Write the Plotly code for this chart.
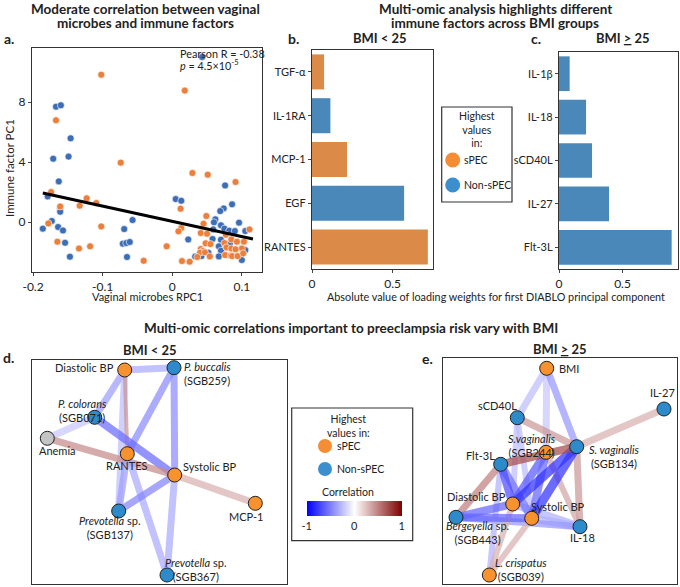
import plotly.graph_objects as go
from plotly.colors import sample_colorscale

W, H = 680, 587
def fx(x): return x / W
def fy(y): return 1 - y / H

FONT = "Lato"
TXT = "#222222"

# ---------------- panel a data ----------------
blue_x = [0.043, -0.167, -0.160, -0.146, -0.171, -0.149, -0.163, -0.179, -0.161, -0.161,
          -0.173, -0.186, -0.164, -0.157, -0.069, -0.154, -0.071, -0.066, -0.061, -0.065,
          -0.147, -0.057, 0.076, 0.005, 0.013, 0.023, 0.086, 0.074, 0.069, 0.062,
          0.060, 0.070, 0.059, 0.075, 0.082, 0.058, 0.070, 0.083, 0.067, 0.070,
          0.042, 0.067, 0.096, 0.090, 0.105, 0.105, 0.100, 0.033, 0.052]
blue_y = [11.0, 7.69, 7.78, 5.58, 4.22, 4.36, 2.71, 1.71, 0.87, 0.69,
          0.07, -0.44, -0.33, -0.56, -0.47, -1.38, -1.44, -1.40, -1.33, -2.33,
          -2.31, 0.13, 2.44, 1.53, 1.42, -1.16, 1.18, 0.91, 0.73, 0.18,
          -0.02, -0.22, -0.49, -0.44, -0.58, -1.13, -1.18, -1.40, -1.62, -1.91,
          -2.27, -2.29, -0.04, -0.60, -0.60, -1.87, -2.53, -2.30, -2.05]
orange_x = [-0.102, -0.167, -0.074, -0.174, -0.123, -0.133, -0.109, -0.161, -0.178, -0.102,
            -0.165, -0.134, -0.118, -0.041, -0.008, 0.018, 0.029, 0.051, 0.012, 0.013,
            0.009, 0.014, 0.025, 0.049, 0.045, 0.041, 0.050, 0.077, 0.085, 0.048,
            0.055, 0.075, 0.041, 0.044, 0.078, 0.085, 0.040, 0.047, 0.036, 0.054,
            0.076, 0.084, 0.091, 0.111, 0.093, 0.100, 0.091, 0.086, 0.094, 0.102, 0.103]
orange_y = [9.82, 6.78, 3.96, 2.00, 1.58, 1.09, 1.27, 1.04, -0.09, -0.29,
            -1.31, -1.76, -1.62, -2.58, -1.62, 8.76, 3.27, 3.16, 0.89, -0.40,
            -0.62, -2.60, -2.64, 0.40, -0.11, -0.73, -0.78, -0.84, -1.16, -1.42,
            -1.47, -1.40, -1.80, -1.93, -1.69, -1.76, -2.04, -2.02, -2.33, -2.29,
            -2.20, -2.24, 2.67, -0.49, -1.31, -1.76, -1.82, -2.27, -2.27, -2.09, -1.31]
fit_x = [-0.186, 0.116]
fit_y = [1.93, -1.13]
a_xticks = [-0.2, -0.1, 0, 0.1]
a_xticktext = ["-0.2", "-0.1", "0", "0.1"]
a_yticks = [0, 4, 8]

# ---------------- panels b, c data ----------------
b_cats = ["TGF-α", "IL-1RA", "MCP-1", "EGF", "RANTES"]
b_vals = [0.075, 0.114, 0.217, 0.571, 0.718]
b_group = ["sPEC", "Non-sPEC", "sPEC", "Non-sPEC", "sPEC"]
c_cats = ["IL-1β", "IL-18", "sCD40L", "IL-27", "Flt-3L"]
c_vals = [0.084, 0.213, 0.26, 0.394, 0.887]
c_group = ["Non-sPEC"] * 5
bar_ticks = [0, 0.5]

# ---------------- networks ----------------
d_nodes = ["Diastolic BP", "P. buccalis", "P. colorans", "Anemia", "RANTES",
           "Systolic BP", "MCP-1", "SGB137", "SGB367"]
d_node_x = [124.7, 174.0, 94.7, 47.3, 127.3, 174.7, 255.3, 118.7, 167.0]
d_node_y = [370.0, 367.7, 417.3, 438.3, 453.7, 475.0, 503.3, 511.0, 575.0]
d_group = ["sPEC", "Non-sPEC", "Non-sPEC", "None", "sPEC", "sPEC", "sPEC", "Non-sPEC", "Non-sPEC"]
d_labels = ["Diastolic BP", "<i>P. buccalis</i><br>(SGB259)", "<i>P. colorans</i><br>(SGB071)",
            "Anemia", "RANTES", "Systolic BP", "MCP-1",
            "<i>Prevotella</i> sp.<br>(SGB137)", "<i>Prevotella</i> sp.<br>(SGB367)"]
d_label_x = [116, 182, 82, 57.3, 127.3, 209.7, 246.3, 110, 196]
d_label_y = [367, 373, 410, 450.7, 465.7, 466, 516.7, 527, 569]
d_label_anchor = ["right", "left", "center", "center", "center", "center", "center", "center", "center"]
d_edges = [("Diastolic BP", "P. buccalis", -0.33), ("Diastolic BP", "P. colorans", -0.38),
           ("Diastolic BP", "SGB137", -0.25), ("Diastolic BP", "RANTES", 0.42),
           ("P. buccalis", "RANTES", -0.45), ("P. buccalis", "Systolic BP", -0.45),
           ("P. colorans", "Anemia", -0.22), ("P. colorans", "Systolic BP", -0.58),
           ("Anemia", "Systolic BP", 0.45), ("RANTES", "SGB137", -0.38),
           ("RANTES", "SGB367", -0.33), ("Systolic BP", "SGB137", -0.48),
           ("Systolic BP", "SGB367", -0.33), ("Systolic BP", "MCP-1", 0.3)]
d_edge_w = [7, 7, 7, 4, 7, 7, 7, 8, 7, 7, 7, 7, 7, 7]

e_nodes = ["BMI", "IL-27", "sCD40L", "SGB244", "SGB134", "Flt-3L", "Diastolic BP",
           "Systolic BP", "Bergeyella", "IL-18", "L. crispatus"]
e_node_x = [546.7, 664.0, 517.3, 546.0, 576.7, 500.7, 512.7, 531.7, 456.0, 580.0, 489.3]
e_node_y = [368.3, 409.0, 417.7, 452.3, 446.7, 464.3, 504.0, 518.3, 517.3, 526.7, 575.0]
e_group = ["sPEC", "Non-sPEC", "Non-sPEC", "sPEC", "Non-sPEC", "Non-sPEC", "sPEC",
           "sPEC", "Non-sPEC", "Non-sPEC", "sPEC"]
e_labels = ["BMI", "IL-27", "sCD40L", "<i>S.vaginalis</i><br>(SGB244)",
            "<i>S. vaginalis</i><br>(SGB134)", "Flt-3L", "Diastolic BP", "Systolic BP",
            "<i>Bergeyella</i> sp.<br>(SGB443)", "IL-18", "<i>L. crispatus</i><br>(SGB039)"]
e_label_x = [557.3, 662.7, 497.3, 532, 614, 480.7, 476, 558.3, 477, 582.7, 521]
e_label_y = [368.3, 392.3, 405.7, 445.5, 456.7, 455, 496.7, 506.7, 532.3, 537.7, 569]
e_label_anchor = ["left"] + ["center"] * 10
e_edges = [("BMI", "sCD40L", -0.25), ("BMI", "SGB244", -0.22), ("BMI", "SGB134", -0.4),
           ("sCD40L", "Diastolic BP", -0.25), ("sCD40L", "Systolic BP", -0.25),
           ("sCD40L", "SGB134", 0.4), ("IL-27", "SGB134", 0.3),
           ("Diastolic BP", "IL-18", -0.3), ("Systolic BP", "IL-18", -0.3),
           ("Bergeyella", "IL-18", -0.4), ("L. crispatus", "Flt-3L", -0.3),
           ("L. crispatus", "Diastolic BP", 0.3), ("L. crispatus", "Systolic BP", 0.3),
           ("SGB134", "IL-18", 0.4), ("SGB244", "IL-18", 0.35),
           ("Flt-3L", "Bergeyella", 0.5), ("Bergeyella", "Diastolic BP", -0.6),
           ("Bergeyella", "Systolic BP", -0.6), ("Flt-3L", "Systolic BP", -0.55),
           ("Flt-3L", "Diastolic BP", -0.7), ("SGB244", "Diastolic BP", -0.65),
           ("SGB244", "Systolic BP", -0.6), ("SGB134", "Diastolic BP", -0.8),
           ("SGB134", "Systolic BP", -0.8), ("SGB134", "Flt-3L", 0.7)]
e_edge_w = [7, 7, 7, 6, 6, 7, 7, 8, 8, 7, 6, 6, 6, 7, 6, 7, 8, 8, 8, 8, 8, 8, 9, 9, 8]

# ---------------- styles ----------------
PT_COL = {"sPEC": "#EB7F3C", "Non-sPEC": "#3D6DB5"}
BAR_COL = {"sPEC": "#DB8A47", "Non-sPEC": "#4A88BA"}
NODE_COL = {"sPEC": "#F7922F", "Non-sPEC": "#2E8BCB", "None": "#C4C4C4"}
CS = [[0, "rgb(0,0,255)"], [0.5, "rgb(255,255,255)"], [1, "rgb(128,0,0)"]]

fig = go.Figure()

# panel a
fig.add_trace(go.Scatter(x=blue_x, y=blue_y, mode="markers", xaxis="x", yaxis="y",
                         marker=dict(color=PT_COL["Non-sPEC"], size=7, line=dict(color="white", width=0.6)),
                         showlegend=False, hoverinfo="skip"))
fig.add_trace(go.Scatter(x=orange_x, y=orange_y, mode="markers", xaxis="x", yaxis="y",
                         marker=dict(color=PT_COL["sPEC"], size=7, line=dict(color="white", width=0.6)),
                         showlegend=False, hoverinfo="skip"))
fig.add_trace(go.Scatter(x=fit_x, y=fit_y, mode="lines", xaxis="x", yaxis="y",
                         line=dict(color="black", width=3), showlegend=False, hoverinfo="skip"))

# panels b, c
fig.add_trace(go.Bar(x=b_vals, y=b_cats, orientation="h", xaxis="x2", yaxis="y2",
                     marker=dict(color=[BAR_COL[g] for g in b_group], line=dict(width=0)),
                     showlegend=False, hoverinfo="skip"))
fig.add_trace(go.Bar(x=c_vals, y=c_cats, orientation="h", xaxis="x3", yaxis="y3",
                     marker=dict(color=[BAR_COL[g] for g in c_group], line=dict(width=0)),
                     showlegend=False, hoverinfo="skip"))

# networks
def add_network(nodes, nx, ny, groups, edges, widths, xa, ya):
    idx = {n: i for i, n in enumerate(nodes)}
    for (a, b, r), w in zip(edges, widths):
        col = sample_colorscale(CS, [(r + 1) / 2])[0]
        fig.add_trace(go.Scatter(x=[nx[idx[a]], nx[idx[b]]], y=[ny[idx[a]], ny[idx[b]]],
                                 mode="lines", xaxis=xa, yaxis=ya, opacity=0.72,
                                 line=dict(color=col, width=w),
                                 showlegend=False, hoverinfo="skip"))
    fig.add_trace(go.Scatter(x=nx, y=ny, mode="markers", xaxis=xa, yaxis=ya,
                             marker=dict(size=14, color=[NODE_COL[g] for g in groups],
                                         line=dict(color="#222", width=1)),
                             showlegend=False, hoverinfo="skip"))

add_network(d_nodes, d_node_x, d_node_y, d_group, d_edges, d_edge_w, "x4", "y4")
add_network(e_nodes, e_node_x, e_node_y, e_group, e_edges, e_edge_w, "x5", "y5")

# colorbar
fig.add_trace(go.Scatter(x=[None], y=[None], mode="markers", xaxis="x4", yaxis="y4",
                         marker=dict(color=[0], colorscale=CS, cmin=-1, cmax=1, showscale=True,
                                     colorbar=dict(orientation="h", x=fx(354.2), xanchor="center",
                                                   y=fy(500.7), yanchor="top", len=95 / W,
                                                   lenmode="fraction", thickness=14.5,
                                                   tickvals=[-1, 0, 1], ticktext=["-1", "0", "1"],
                                                   ticks="", outlinewidth=0, xpad=0, ypad=0,
                                                   tickfont=dict(size=11, color=TXT, family=FONT))),
                         showlegend=False, hoverinfo="skip"))

frame = dict(showline=True, mirror=True, linecolor="#333", linewidth=1.3,
             showgrid=False, zeroline=False)
tickf = dict(size=12, color=TXT, family=FONT)

annotations = []
def ann(x, y, text, size=11, bold=False, xanchor="center", yanchor="middle", align="center", xref="paper", yref="paper", **kw):
    if bold:
        text = "<b>" + text.replace("<br>", "</b><br><b>") + "</b>"
    annotations.append(dict(x=x if xref != "paper" else fx(x), y=y if yref != "paper" else fy(y),
                            xref=xref, yref=yref, text=text, showarrow=False,
                            xanchor=xanchor, yanchor=yanchor, align=align,
                            font=dict(size=size, color=TXT, family=FONT), **kw))

# titles
ann(145, 9, "Moderate correlation between vaginal", size=13.5, bold=True)
ann(145, 23, "microbes and immune factors", size=13.5, bold=True)
ann(495, 9, "Multi-omic analysis highlights different", size=13.5, bold=True)
ann(495, 23, "immune factors across BMI groups", size=13.5, bold=True)
ann(351, 328, "Multi-omic correlations important to preeclampsia risk vary with BMI", size=13.5, bold=True)
ann(9, 38, "a.", size=14, bold=True)
ann(293, 38, "b.", size=14, bold=True)
ann(536, 38, "c.", size=14, bold=True)
ann(8, 357, "d.", size=14, bold=True)
ann(427, 358, "e.", size=14, bold=True)
ann(380, 38, "BMI &lt; 25", size=13, bold=True)
ann(623, 38, "BMI <u>&gt;</u> 25", size=13, bold=True)
ann(150, 350, "BMI &lt; 25", size=13, bold=True)
ann(560, 349, "BMI <u>&gt;</u> 25", size=13, bold=True)
# axis titles
ann(147, 297, "Vaginal microbes RPC1", size=11)
ann(496, 297, "Absolute value of loading weights for first DIABLO principal component", size=10.8)
ann(9, 168, "Immune factor PC1", size=11.5, textangle=-90)
ann(178, 54, "Pearson R = -0.38", size=10.8, xanchor="left")
ann(178, 65, "<i>p</i> = 4.5×10<sup>-5</sup>", size=10.8, xanchor="left")

# network labels
for t, x, y, a in zip(d_labels, d_label_x, d_label_y, d_label_anchor):
    ann(x, y, t, size=11, xanchor=a, align=a if a != "center" else "center", xref="x4", yref="y4")
for t, x, y, a in zip(e_labels, e_label_x, e_label_y, e_label_anchor):
    ann(x, y, t, size=11, xanchor=a, align=a if a != "center" else "center", xref="x5", yref="y5")

# legends
shapes = []
def rect(x0, y0, x1, y1):
    shapes.append(dict(type="rect", xref="paper", yref="paper", x0=fx(x0), x1=fx(x1),
                       y0=fy(y1), y1=fy(y0), line=dict(color="#333", width=1.2), fillcolor="white", layer="below"))
def circ(cx, cy, d, col):
    shapes.append(dict(type="circle", xref="paper", yref="paper", x0=fx(cx - d / 2), x1=fx(cx + d / 2),
                       y0=fy(cy + d / 2), y1=fy(cy - d / 2), line=dict(width=0), fillcolor=col))

LEG_COL = {"sPEC": "#F58D35", "Non-sPEC": "#3B8FCF"}
rect(441.7, 107, 512, 202)
ann(477, 130, "Highest<br>values<br>in:", size=10.5)
circ(452.7, 160, 15, LEG_COL["sPEC"])
circ(452.7, 185, 15, LEG_COL["Non-sPEC"])
ann(462, 160, "sPEC", size=10.5, xanchor="left")
ann(462, 185, "Non-sPEC", size=10.5, xanchor="left")

rect(291.7, 408, 412.7, 540.7)
ann(348, 425.7, "Highest<br>values in:", size=10.5)
circ(325, 446, 14, LEG_COL["sPEC"])
circ(325, 469, 14, LEG_COL["Non-sPEC"])
ann(335, 446, "sPEC", size=10.5, xanchor="left")
ann(335, 469, "Non-sPEC", size=10.5, xanchor="left")
ann(348, 491.7, "Correlation", size=10.5)

fig.update_layout(
    width=W, height=H, margin=dict(l=0, r=0, t=0, b=0, autoexpand=False),
    paper_bgcolor="white", plot_bgcolor="white", showlegend=False,
    font=dict(family=FONT, color=TXT), bargap=0.2,
    xaxis=dict(domain=[fx(32), fx(262)], range=[-0.2015, 0.129], anchor="y",
               tickvals=a_xticks, ticktext=a_xticktext, ticks="outside", ticklen=3,
               tickfont=tickf, **frame),
    yaxis=dict(domain=[fy(272), fy(48)], range=[-3.33, 11.6], anchor="x",
               tickvals=a_yticks, ticks="outside", ticklen=3, tickfont=tickf, **frame),
    xaxis2=dict(domain=[fx(312), fx(433)], range=[0, 0.75], anchor="y2",
                tickvals=bar_ticks, ticktext=["0", "0.5"], ticks="outside", ticklen=3,
                tickfont=tickf, **frame),
    yaxis2=dict(domain=[fy(269), fy(50)], anchor="x2", categoryorder="array",
                categoryarray=b_cats, autorange="reversed", ticks="outside", ticklen=3,
                tickfont=dict(size=11, color=TXT, family=FONT), **frame),
    xaxis3=dict(domain=[fx(559), fx(678)], range=[0, 0.937], anchor="y3",
                tickvals=bar_ticks, ticktext=["0", "0.5"], ticks="outside", ticklen=3,
                tickfont=tickf, **frame),
    yaxis3=dict(domain=[fy(269), fy(52)], anchor="x3", categoryorder="array",
                categoryarray=c_cats, autorange="reversed", ticks="outside", ticklen=3,
                tickfont=dict(size=11, color=TXT, family=FONT), **frame),
    xaxis4=dict(domain=[fx(32), fx(287)], range=[32, 287], anchor="y4",
                showticklabels=False, ticks="", **frame),
    yaxis4=dict(domain=[fy(584), fy(360)], range=[584, 360], anchor="x4",
                showticklabels=False, ticks="", **frame),
    xaxis5=dict(domain=[fx(443), fx(677)], range=[443, 677], anchor="y5",
                showticklabels=False, ticks="", **frame),
    yaxis5=dict(domain=[fy(584), fy(358)], range=[584, 358], anchor="x5",
                showticklabels=False, ticks="", **frame),
    annotations=annotations, shapes=shapes,
)

fig.write_html("out.html", config={"displayModeBar": False},
               post_script="document.body.style.margin='0px';")
